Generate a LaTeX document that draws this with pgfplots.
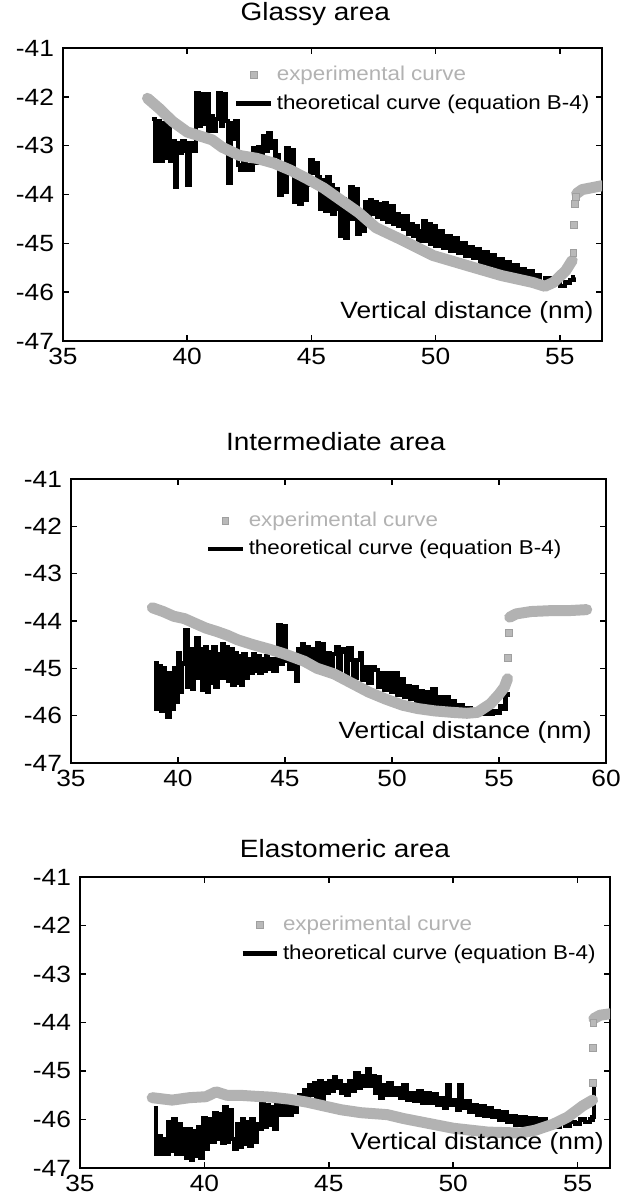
\documentclass[border=0pt]{standalone}
\usepackage{fontspec}
\setmainfont{Liberation Sans}[FakeStretch=1.12]
\usepackage{pgfplots}
\usepackage{pgfplotstable}
\pgfplotsset{compat=1.18}

% ---------------- Glassy area ----------------
\pgfplotstableread{
x y
38.4 -42.03
38.9 -42.25
39.4 -42.50
40.0 -42.72
40.5 -42.80
41.0 -42.88
41.4 -43.03
42.1 -43.20
42.8 -43.26
43.5 -43.36
44.15 -43.50
44.8 -43.67
45.5 -43.87
46.2 -44.12
46.9 -44.37
47.6 -44.68
48.6 -44.92
49.9 -45.25
51.3 -45.46
52.65 -45.66
53.9 -45.80
54.4 -45.88
54.75 -45.80
55.24 -45.56
55.5 -45.35
}\expA
\pgfplotstableread{
x y
55.55 -45.20
55.58 -44.63
55.62 -44.20
55.66 -44.05
}\jumpA
\pgfplotstableread{
x y
55.68 -43.98
55.9 -43.90
56.2 -43.87
56.7 -43.82
}\topA
\pgfplotstableread{
x y
38.60 -42.45
38.70 -43.30
38.80 -42.50
38.90 -43.30
39.00 -42.55
39.10 -43.25
39.20 -42.60
39.30 -43.30
39.40 -42.90
39.50 -43.85
39.60 -42.95
39.70 -43.15
39.80 -42.90
39.90 -43.10
40.00 -43.80
40.10 -42.95
40.20 -43.10
40.35 -41.93
40.45 -42.60
40.55 -41.95
40.65 -42.55
40.75 -41.95
40.85 -42.70
40.95 -42.40
41.05 -42.70
41.15 -42.45
41.25 -41.93
41.35 -42.60
41.45 -41.95
41.55 -42.50
41.65 -43.77
41.75 -42.55
41.85 -42.85
41.95 -42.50
42.05 -43.40
42.15 -43.50
42.25 -43.35
42.35 -43.50
42.45 -43.40
42.55 -43.50
42.65 -43.05
42.75 -43.35
42.85 -43.03
42.95 -43.30
43.05 -42.80
43.15 -43.10
43.25 -42.75
43.35 -43.05
43.45 -42.90
43.55 -43.20
43.70 -44.00
43.80 -43.50
43.90 -43.95
44.00 -43.05
44.10 -43.50
44.20 -43.10
44.30 -44.15
44.40 -43.70
44.50 -44.20
44.60 -43.75
44.70 -44.10
44.80 -43.80
44.95 -43.30
45.05 -43.55
45.15 -43.35
45.25 -43.65
45.35 -44.30
45.45 -43.70
45.55 -44.33
45.65 -43.65
45.75 -43.80
45.85 -44.39
45.95 -43.90
46.05 -44.30
46.15 -44.85
46.25 -44.10
46.35 -44.88
46.45 -44.20
46.55 -43.85
46.65 -44.50
46.75 -43.90
46.85 -44.80
46.95 -44.40
47.05 -44.75
47.15 -44.15
47.25 -44.45
47.35 -44.12
47.45 -44.40
47.55 -44.15
47.65 -44.45
47.75 -44.20
47.85 -44.50
47.95 -44.18
48.05 -44.55
48.15 -44.25
48.30 -44.60
48.40 -44.40
48.50 -44.65
48.60 -44.45
48.70 -44.70
48.80 -44.45
48.90 -44.80
49.00 -44.60
49.10 -44.85
49.20 -44.65
49.30 -44.95
49.40 -44.75
49.50 -44.55
49.60 -44.95
49.70 -44.60
49.80 -45.00
49.90 -44.65
50.00 -45.05
50.15 -44.75
50.30 -45.10
50.45 -44.85
50.60 -45.15
50.75 -44.90
50.90 -45.20
51.05 -45.00
51.20 -45.25
51.35 -45.08
51.50 -45.30
51.65 -45.12
51.80 -45.40
51.95 -45.18
52.10 -45.45
52.25 -45.25
52.40 -45.50
52.55 -45.32
52.70 -45.55
52.85 -45.38
53.00 -45.60
53.15 -45.45
53.30 -45.65
53.45 -45.52
53.60 -45.70
53.75 -45.58
53.90 -45.75
54.05 -45.65
54.20 -45.82
54.40 -45.72
54.60 -45.85
54.80 -45.80
55.00 -45.88
55.20 -45.80
55.40 -45.75
55.55 -45.70
55.60 -45.70
}\theoA

% ---------------- Intermediate area ----------------
\pgfplotstableread{
x y
38.8 -43.72
39.3 -43.80
39.8 -43.90
40.3 -43.95
40.8 -44.05
41.3 -44.15
41.8 -44.22
42.3 -44.30
42.8 -44.40
43.5 -44.50
44.3 -44.60
45.0 -44.70
45.9 -44.85
46.5 -45.00
47.3 -45.12
48.1 -45.31
48.9 -45.50
49.7 -45.65
50.5 -45.78
51.2 -45.85
52.0 -45.90
52.8 -45.93
53.5 -45.95
54.0 -45.93
54.6 -45.75
55.0 -45.55
55.25 -45.40
55.4 -45.22
}\expB
\pgfplotstableread{
x y
55.42 -44.78
55.45 -44.26
}\jumpB
\pgfplotstableread{
x y
55.5 -43.92
55.8 -43.85
56.5 -43.80
57.5 -43.78
58.3 -43.78
59.1 -43.76
}\topB
\pgfplotstableread{
x y
38.90 -44.90
39.00 -45.85
39.10 -44.95
39.20 -45.90
39.30 -45.00
39.40 -45.85
39.50 -46.03
39.60 -45.10
39.70 -45.85
39.80 -45.00
39.90 -45.70
40.00 -44.68
40.10 -45.50
40.20 -44.90
40.35 -44.20
40.45 -45.40
40.55 -44.60
40.65 -45.43
40.75 -44.70
40.85 -44.36
40.95 -45.20
41.05 -44.60
41.15 -45.46
41.25 -44.55
41.35 -45.50
41.45 -44.65
41.55 -45.30
41.65 -44.55
41.75 -45.40
41.85 -44.70
41.95 -45.20
42.05 -44.50
42.15 -45.20
42.25 -44.55
42.35 -45.26
42.45 -44.60
42.55 -45.35
42.65 -44.68
42.75 -45.30
42.85 -44.75
42.95 -45.34
43.05 -44.70
43.15 -45.20
43.25 -44.80
43.40 -45.10
43.50 -44.70
43.60 -45.05
43.70 -44.75
43.80 -45.10
43.90 -44.80
44.00 -45.05
44.10 -44.75
44.20 -45.00
44.30 -44.80
44.45 -45.05
44.60 -44.80
44.70 -44.08
44.80 -44.90
44.90 -44.10
45.05 -44.85
45.20 -45.00
45.35 -44.80
45.50 -45.26
45.60 -44.60
45.70 -44.85
45.80 -44.50
45.90 -44.90
46.00 -44.55
46.10 -44.95
46.20 -44.60
46.35 -45.00
46.50 -44.47
46.60 -44.90
46.70 -44.50
46.80 -44.95
46.95 -44.68
47.10 -45.00
47.25 -44.70
47.40 -44.55
47.50 -45.05
47.60 -44.60
47.75 -44.65
47.85 -45.15
47.95 -44.57
48.10 -44.83
48.20 -45.20
48.35 -44.83
48.50 -44.67
48.60 -45.25
48.75 -44.97
48.90 -45.30
49.05 -44.97
49.20 -45.03
49.35 -45.40
49.50 -45.10
49.65 -45.45
49.80 -45.10
49.95 -45.50
50.10 -45.10
50.25 -45.55
50.40 -45.24
50.55 -45.60
50.70 -45.38
50.85 -45.65
51.00 -45.40
51.15 -45.70
51.30 -45.48
51.45 -45.72
51.60 -45.50
51.75 -45.75
51.90 -45.45
52.05 -45.78
52.20 -45.60
52.35 -45.80
52.50 -45.62
52.65 -45.82
52.80 -45.70
52.95 -45.85
53.10 -45.78
53.30 -45.90
53.50 -45.85
53.70 -45.95
53.90 -45.90
54.10 -45.97
54.30 -45.95
54.50 -45.97
54.70 -45.90
54.90 -45.95
55.05 -45.80
55.20 -45.85
55.30 -45.55
55.40 -45.50
}\theoB

% ---------------- Elastomeric area ----------------
\pgfplotstableread{
x y
37.9 -45.55
38.7 -45.60
39.4 -45.55
40.06 -45.53
40.47 -45.43
40.9 -45.50
41.4 -45.50
42.0 -45.52
42.7 -45.54
43.4 -45.58
44.1 -45.64
44.8 -45.72
45.5 -45.80
46.3 -45.86
47.35 -45.90
48.0 -45.98
48.7 -46.05
49.4 -46.12
50.0 -46.18
50.7 -46.22
51.4 -46.26
52.1 -46.27
52.7 -46.28
53.3 -46.22
54.0 -46.10
54.6 -45.95
55.2 -45.72
55.6 -45.60
}\expC
\pgfplotstableread{
x y
55.62 -45.25
55.60 -44.52
55.63 -44.00
}\jumpC
\pgfplotstableread{
x y
55.65 -43.92
55.9 -43.85
56.3 -43.82
}\topC
\pgfplotstableread{
x y
37.96 -45.76
38.05 -46.70
38.15 -46.35
38.25 -46.70
38.35 -46.40
38.45 -46.70
38.55 -46.05
38.65 -46.65
38.75 -46.00
38.85 -46.70
38.95 -46.10
39.05 -46.70
39.15 -46.20
39.25 -46.80
39.35 -46.20
39.45 -46.84
39.55 -46.25
39.65 -46.75
39.75 -46.15
39.85 -46.78
39.95 -45.97
40.05 -46.60
40.15 -46.00
40.30 -46.45
40.40 -45.86
40.50 -46.40
40.60 -45.90
40.70 -46.49
40.80 -45.74
40.90 -46.45
41.00 -45.80
41.10 -46.40
41.20 -46.60
41.30 -46.10
41.40 -46.56
41.50 -46.00
41.60 -46.50
41.70 -46.05
41.80 -46.55
41.90 -46.00
42.00 -46.45
42.10 -46.10
42.20 -46.20
42.30 -45.66
42.40 -46.15
42.50 -45.70
42.60 -46.10
42.70 -45.75
42.80 -46.20
42.90 -45.70
43.00 -45.90
43.10 -45.70
43.20 -45.90
43.30 -45.66
43.40 -45.90
43.50 -45.70
43.60 -45.85
43.70 -45.60
43.80 -45.50
43.90 -45.65
44.00 -45.39
44.10 -45.55
44.20 -45.30
44.30 -45.50
44.40 -45.25
44.50 -45.55
44.60 -45.22
44.70 -45.60
44.80 -45.25
44.90 -45.45
45.00 -45.20
45.10 -45.40
45.20 -45.12
45.30 -45.35
45.40 -45.20
45.50 -45.45
45.60 -45.30
45.70 -45.50
45.80 -45.20
45.95 -45.40
46.05 -45.05
46.20 -45.35
46.30 -45.10
46.45 -45.30
46.55 -44.97
46.65 -45.30
46.75 -45.10
46.85 -45.45
46.95 -45.12
47.05 -45.55
47.15 -45.30
47.30 -45.50
47.40 -45.25
47.55 -45.50
47.70 -45.35
47.85 -45.55
48.00 -45.30
48.15 -45.60
48.30 -45.45
48.45 -45.62
48.60 -45.42
48.75 -45.65
48.90 -45.46
49.05 -45.65
49.20 -45.48
49.35 -45.70
49.50 -45.56
49.65 -45.75
49.75 -45.30
49.85 -45.70
50.00 -45.60
50.15 -45.80
50.25 -45.30
50.35 -45.75
50.50 -45.62
50.65 -45.85
50.80 -45.70
50.95 -45.90
51.10 -45.72
51.25 -45.92
51.40 -45.76
51.55 -45.95
51.70 -45.83
51.85 -46.00
52.00 -45.85
52.15 -46.05
52.30 -45.93
52.50 -46.10
52.70 -45.95
52.90 -46.15
53.10 -45.98
53.30 -46.15
53.50 -46.00
53.70 -46.15
53.90 -46.05
54.10 -46.15
54.30 -46.05
54.50 -46.12
54.70 -46.05
54.90 -46.08
55.10 -46.00
55.30 -46.05
55.50 -46.00
55.60 -45.95
55.65 -45.30
}\theoC

\pgfplotsset{
  panel/.style={
    scale only axis,
    xmin=35, ymin=-47, ymax=-41,
    ytick={-47,-46,...,-41},
    tick align=inside,
    tick pos=both,
    major tick length=3pt,
    axis line style={line width=1pt},
    every tick/.style={black, line width=0.8pt},
    tick label style={font=\fontsize{11.75}{13}\selectfont},
    /pgf/number format/assume math mode=true,
    yticklabel style={xshift=-1pt},
    title style={font=\fontsize{12.5}{14}\selectfont, anchor=base},
    xlabel style={font=\fontsize{11.75}{13}\selectfont, anchor=east, inner sep=0pt},
    legend style={draw=none, fill=none, font=\fontsize{10}{12}\selectfont,
      anchor=north west, row sep=1.5pt, inner sep=0pt},
    legend cell align=left,
  },
  theo/.style={black, line width=2.2pt, const plot, no marks, forget plot},
  expt/.style={gray!60, line width=5.5pt, no marks, line join=round, line cap=round, forget plot},
  jump/.style={only marks, mark=square*, mark size=1.7pt, mark options={fill=gray!55, draw=gray!75, line width=0.4pt}},
}

\begin{document}
\begin{tikzpicture}
\path[use as bounding box] (0,0) rectangle (313pt,598.5pt);

% Glassy
\begin{axis}[panel,
  at={(31.5pt,428pt)}, anchor=south west,
  width=269.5pt, height=146.5pt,
  xmax=56.7, xtick={35,40,...,55},
  title={Glassy area},
  title style={at={(0.468,1)}, yshift=7.5pt},
  xlabel={Vertical distance (nm)},
  xlabel style={at={(axis description cs:0.985,0.096)}},
  legend style={at={(axis description cs:0.317,0.952)}},
]
\addplot[theo] table {\theoA};
\addplot[expt] table {\expA};
\addplot[expt] table {\topA};
\addplot[jump] table {\jumpA};
\addlegendentry{\textcolor{gray!60}{experimental curve}}
\addlegendimage{black, line width=2.2pt}
\addlegendentry{theoretical curve (equation B-4)}
\end{axis}

% Intermediate
\begin{axis}[panel,
  at={(35.5pt,217pt)}, anchor=south west,
  width=267.5pt, height=142pt,
  xmax=60, xtick={35,40,...,60},
  title={Intermediate area},
  title style={at={(0.495,1)}, yshift=8pt},
  xlabel={Vertical distance (nm)},
  xlabel style={at={(axis description cs:0.974,0.106)}},
  legend style={at={(axis description cs:0.252,0.90)}},
]
\addplot[theo] table {\theoB};
\addplot[expt] table {\expB};
\addplot[expt] table {\topB};
\addplot[jump] table {\jumpB};
\addlegendentry{\textcolor{gray!60}{experimental curve}}
\addlegendimage{black, line width=2.2pt}
\addlegendentry{theoretical curve (equation B-4)}
\end{axis}

% Elastomeric
\begin{axis}[panel,
  at={(40pt,14.5pt)}, anchor=south west,
  width=265pt, height=145.5pt,
  xmax=56.3, xtick={35,40,...,55},
  title={Elastomeric area},
  title style={at={(0.50,1)}, yshift=4pt},
  xlabel={Vertical distance (nm)},
  xlabel style={at={(axis description cs:0.989,0.086)}},
  legend style={at={(axis description cs:0.302,0.88)}},
]
\addplot[theo] table {\theoC};
\addplot[expt] table {\expC};
\addplot[expt] table {\topC};
\addplot[jump] table {\jumpC};
\addlegendentry{\textcolor{gray!60}{experimental curve}}
\addlegendimage{black, line width=2.2pt}
\addlegendentry{theoretical curve (equation B-4)}
\end{axis}
\end{tikzpicture}
\end{document}
